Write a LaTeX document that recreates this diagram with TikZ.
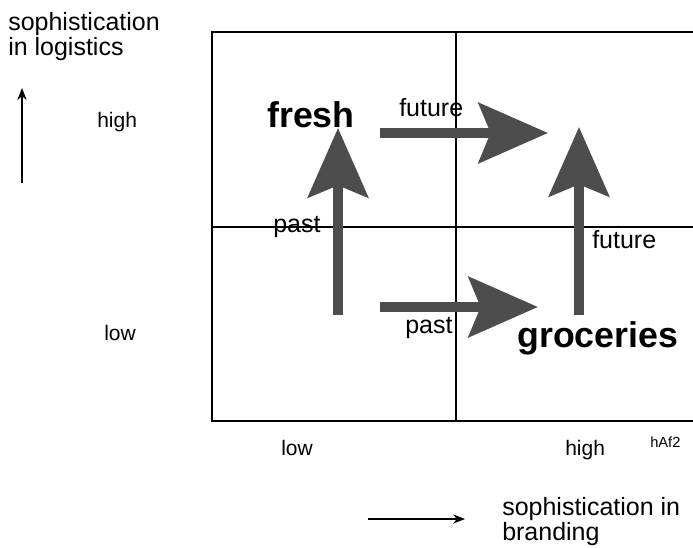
\documentclass[tikz,border=0pt]{standalone}
\usepackage{fontspec}
\setmainfont{Liberation Sans}
\usetikzlibrary{arrows.meta}
\definecolor{arrowgray}{RGB}{77,77,77}

\begin{document}
\begin{tikzpicture}[x=0.75pt,y=-0.75pt,inner sep=0pt,
    thickarrow/.style={line width=7.5pt,draw=arrowgray,%
      -{Stealth[length=52pt,width=45pt,inset=9pt]}},
    axisarrow/.style={line width=0.8pt,-{Stealth[length=9pt,width=7pt]}},
    frameline/.style={line width=1.1pt},
    axistitle/.style={font=\fontsize{18.75}{17}\selectfont,align=left},
    levellabel/.style={font=\fontsize{15.75}{19}\selectfont},
    timelabel/.style={font=\fontsize{18.75}{22}\selectfont},
    marketlabel/.style={font=\fontsize{26.8}{30}\selectfont\bfseries}]

  % ここまでをバウンディングボックス内とする
  \useasboundingbox (0,0) rectangle (693,547);

  % 枠と区切り線
  \draw[frameline] (693,32) -- (212,32) -- (212,421) -- (693,421);
  \draw[frameline] (456,32) -- (456,421);
  \draw[frameline] (212,227) -- (693,227);

  % 縦軸
  \node[axistitle,anchor=base west] (ylabel) at (8,55){%
    sophistication\\in logistics};
  \coordinate (ybottom) at (22,183);
  \coordinate (ytop) at (22,88);
  \draw[axisarrow] (ybottom) -- (ytop);
  \node[levellabel,anchor=base west] (yhigh) at (97,127){high};
  \node[levellabel,anchor=base west] (ylow) at (104,340){low};

  % 横軸
  \node[levellabel,anchor=base west] (xlow) at (281,455){low};
  \node[levellabel,anchor=base west] (xhigh) at (565,455){high};
  \node[font=\fontsize{11}{13}\selectfont,anchor=base west] (tag) at (650,447){hAf2};
  \coordinate (xleft) at (368,519);
  \coordinate (xright) at (465,519);
  \draw[axisarrow] (xleft) -- (xright);
  \node[axistitle,anchor=base west] (xlabel) at (502,540){%
    sophistication in\\branding};

  % 市場
  \node[marketlabel,anchor=base west] (fresh) at (267,127){fresh};
  \node[marketlabel,anchor=base west] (groceries) at (517,347){groceries};

  % 太い矢印
  \coordinate (freshfoot) at (338,315);
  \coordinate (freshtip) at (338,128);
  \coordinate (futurefoot) at (380,133);
  \coordinate (futuretip) at (548,133);
  \coordinate (pastfoot) at (380,307);
  \coordinate (pasttip) at (538,307);
  \coordinate (groceriesfoot) at (579,315);
  \coordinate (groceriestip) at (579,127);
  \draw[thickarrow] (freshfoot) -- (freshtip);
  \draw[thickarrow] (futurefoot) -- (futuretip);
  \draw[thickarrow] (pastfoot) -- (pasttip);
  \draw[thickarrow] (groceriesfoot) -- (groceriestip);

  \node[timelabel,anchor=base west] (pastup) at (273,232){past};
  \node[timelabel,anchor=base west] (futureright) at (399,116){future};
  \node[timelabel,anchor=base west] (pastright) at (405,333){past};
  \node[timelabel,anchor=base west] (futureup) at (592,248){future};
\end{tikzpicture}
\end{document}
